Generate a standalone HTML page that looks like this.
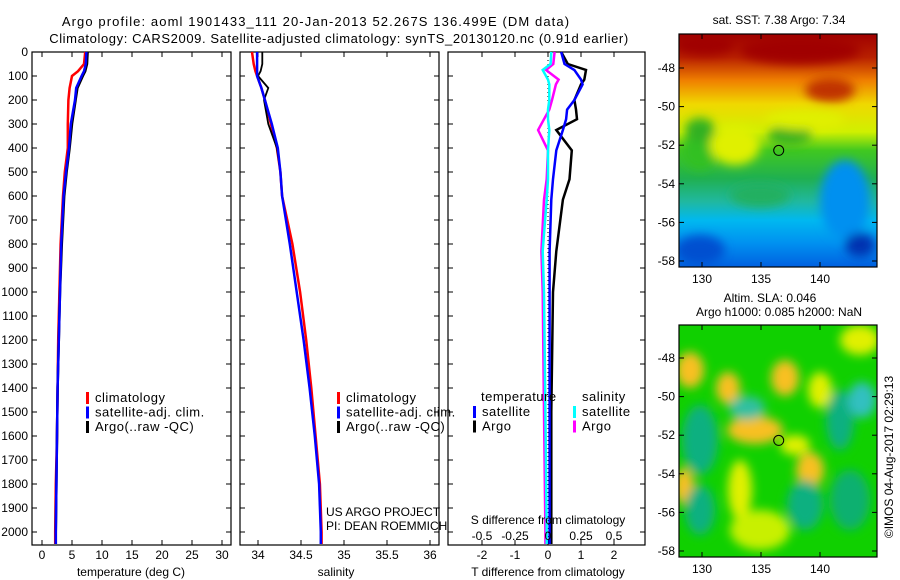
<!DOCTYPE html>
<html><head><meta charset="utf-8"><style>
html,body{margin:0;padding:0;background:#fff;}
svg{display:block;font-family:"Liberation Sans",sans-serif;}
</style></head><body>
<svg id="c" width="900" height="580" xmlns="http://www.w3.org/2000/svg">
<defs>
<linearGradient id="sstg" x1="0" y1="0" x2="0" y2="1">
<stop offset="0" stop-color="#a00000"/><stop offset="0.1" stop-color="#b82000"/><stop offset="0.2" stop-color="#f08000"/><stop offset="0.3" stop-color="#f0d800"/><stop offset="0.42" stop-color="#d0f000"/><stop offset="0.5" stop-color="#40c820"/><stop offset="0.62" stop-color="#20b050"/><stop offset="0.72" stop-color="#20b8a0"/><stop offset="0.8" stop-color="#00b8f0"/><stop offset="0.9" stop-color="#0090f0"/><stop offset="1" stop-color="#0060e0"/>
</linearGradient>
<filter id="blur"><feGaussianBlur stdDeviation="5"/></filter>
<clipPath id="m1"><rect x="679" y="34" width="198" height="233"/></clipPath>
<clipPath id="m2"><rect x="679" y="325" width="198" height="232"/></clipPath>
</defs>
<g id="root"></g>
</svg>
<script>
// ---- data ----
const depths = [0,50,80,100,150,200,300,400,500,600,800,1000,1200,1400,1600,1800,2000,2050];
const tempClim = [7.2,7.0,6.0,5.0,4.6,4.4,4.3,4.3,3.8,3.5,3.1,2.9,2.7,2.6,2.5,2.3,2.2,2.2];
const tempSat  = [7.4,7.3,7.0,6.6,5.7,5.5,4.8,4.5,4.0,3.6,3.2,3.0,2.8,2.6,2.5,2.4,2.3,2.3];
const tempArgo = [7.6,7.5,7.2,6.8,5.9,5.6,5.0,4.6,4.1,3.7,3.3,3.0,2.8,2.6,2.5,2.4,2.3,2.3];
const salClim  = [33.93,33.95,33.97,33.99,34.04,34.08,34.15,34.22,34.26,34.28,34.40,34.49,34.56,34.62,34.67,34.72,34.74,34.74];
const salSat   = [33.99,33.99,33.99,33.99,34.04,34.08,34.16,34.23,34.26,34.28,34.37,34.45,34.53,34.60,34.66,34.71,34.73,34.73];
const salArgo  = [34.05,34.05,34.03,34.00,34.12,34.07,34.12,34.22,34.26,34.28,34.37,34.45,34.53,34.60,34.66,34.71,34.73,34.73];
const dDepths  = [0,50,75,115,135,200,240,280,325,410,530,615,830,1000,1500,2000,2050];
const dTSat    = [0.4,0.5,0.8,1.0,1.05,0.8,0.58,0.55,0.45,0.25,0.15,0.1,0.05,0.05,0.05,0.05,0.05];
const dTArgo   = [0.4,0.6,1.15,1.1,1.0,0.8,0.85,0.88,0.25,0.72,0.65,0.45,0.25,0.15,0.1,0.1,0.1];
const dSSat    = [0.025,0.02,-0.04,0.0,0.01,0.01,0.0,0.0,0.01,0.0,0.0,-0.01,-0.04,-0.03,-0.02,-0.01,-0.01];
const dSArgo   = [0.05,0.04,-0.015,0.08,0.06,0.03,0.01,-0.03,-0.075,0.0,-0.01,-0.03,-0.05,-0.04,-0.03,-0.02,-0.02];
const depthTicks = [0,100,200,300,400,500,600,700,800,900,1000,1100,1200,1300,1400,1500,1600,1700,1800,1900,2000];
const tTicks = [0,5,10,15,20,25,30];
const sTicks = [34,34.5,35,35.5,36];
const dTTicks = [-2,-1,0,1,2];
const dSTicks = ['-0.5','-0.25','0','0.25','0.5'];

const NS='http://www.w3.org/2000/svg';
const rootG=document.getElementById('root');
function el(tag,attrs,parent){const e=document.createElementNS(NS,tag);for(const k in attrs)e.setAttribute(k,attrs[k]);(parent||rootG).appendChild(e);return e;}
function txt(x,y,s,anchor,size,parent,rot){const t=el('text',{x:x,y:y,'font-size':size||12,'text-anchor':anchor||'start',fill:'#000'},parent);if(rot)t.setAttribute('transform',rot);t.textContent=s;return t;}

const yTop=52,yBot=545;
const yD=d=>yTop+d*0.24;
const xT=v=>42+v*6;
const xS=v=>258+(v-34)*86;
const xDT=v=>548+v*33;
const xDS=v=>548+v*132;

let t1=txt(316,26,'Argo profile: aoml 1901433_111 20-Jan-2013 52.267S 136.499E (DM data)','middle',13);
t1.setAttribute('letter-spacing','1.1');


let t2=txt(339,43,'Climatology: CARS2009. Satellite-adjusted climatology: synTS_20130120.nc (0.91d earlier)','middle',13);
t2.setAttribute('letter-spacing','0.6');



function panel(name,x0,x1){
  const g=el('g',{});
  
  
  el('rect',{x:x0,y:yTop,width:x1-x0,height:yBot-yTop,fill:'none',stroke:'#000','stroke-width':1.2},g);
  return g;
}
function line(g,xs,ds,xf,yf,color,w,name){
  const p=el('polyline',{points:xs.map((v,i)=>xf(v).toFixed(1)+','+yf(ds[i]).toFixed(1)).join(' '),fill:'none',stroke:color,'stroke-width':w},g);
  
  
}
function xticks(g,ticks,xf,labels){
  ticks.forEach((v,i)=>{
    const x=xf(v);
    el('line',{x1:x,y1:yTop,x2:x,y2:yTop+5,stroke:'#000'},g);
    el('line',{x1:x,y1:yBot,x2:x,y2:yBot-5,stroke:'#000'},g);
    txt(x,559,labels?labels[i]:String(v),'middle',12,g);
  });
}
const p1=panel('temperature-panel',32,231);
depthTicks.forEach(d=>{const y=yD(d);el('line',{x1:32,y1:y,x2:37,y2:y,stroke:'#000'},p1);el('line',{x1:231,y1:y,x2:226,y2:y,stroke:'#000'},p1);txt(28,y+4,String(d),'end',12,p1);});
xticks(p1,tTicks,xT);
line(p1,tempClim,depths,xT,yD,'#f00',2.5,'temp-climatology-line');
line(p1,tempArgo,depths,xT,yD,'#000',2.5,'temp-argo-line');
line(p1,tempSat,depths,xT,yD,'#00f',2.5,'temp-satellite-line');
let xl1=txt(131,576,'temperature (deg C)','middle',12,p1);
const p2=panel('salinity-panel',240,439);
depthTicks.forEach(d=>{const y=yD(d);el('line',{x1:240,y1:y,x2:245,y2:y,stroke:'#000'},p2);el('line',{x1:439,y1:y,x2:434,y2:y,stroke:'#000'},p2);});
xticks(p2,sTicks,xS);
line(p2,salClim,depths,xS,yD,'#f00',2.5,'sal-climatology-line');
line(p2,salArgo,depths,xS,yD,'#000',1.8,'sal-argo-line');
line(p2,salSat,depths,xS,yD,'#00f',2.5,'sal-satellite-line');
let xl2=txt(336,576,'salinity','middle',12,p2);
txt(326,516,'US ARGO PROJECT','start',12,p2);
txt(326,530,'PI: DEAN ROEMMICH','start',12,p2);
const p3=panel('difference-panel',448,645);
depthTicks.forEach(d=>{const y=yD(d);el('line',{x1:448,y1:y,x2:453,y2:y,stroke:'#000'},p3);el('line',{x1:645,y1:y,x2:640,y2:y,stroke:'#000'},p3);});
xticks(p3,dTTicks,xDT);
el('line',{x1:548,y1:yTop,x2:548,y2:yBot,stroke:'#000','stroke-dasharray':'1,3'},p3);
line(p3,dSArgo,dDepths,xDS,yD,'#f0f',2.5,'sal-diff-argo-line');
line(p3,dSSat,dDepths,xDS,yD,'#0ff',2.5,'sal-diff-satellite-line');
line(p3,dTArgo,dDepths,xDT,yD,'#000',2.5,'temp-diff-argo-line');
line(p3,dTSat,dDepths,xDT,yD,'#00f',2.5,'temp-diff-satellite-line');
dSTicks.forEach(s=>{txt(xDS(parseFloat(s)),540,s,'middle',12,p3);});
txt(548,524,'S difference from climatology','middle',12,p3);
let xl3=txt(548,576,'T difference from climatology','middle',12,p3);

function legend(g,x,y,items,name){
  const lg=el('g',{},g);
  
  
  items.forEach((it,i)=>{const yy=y+i*14.5;el('rect',{x:x,y:yy-9,width:3,height:12,fill:it[1]},lg);const t=txt(x+9,yy+1,it[0],'start',13,lg);t.setAttribute('letter-spacing','0.5');});
}
const L=[['climatology','#f00'],['satellite-adj. clim.','#00f'],['Argo(..raw -QC)','#000']];
legend(p1,86,401,L,'temperature-legend');
legend(p2,337,401,L,'salinity-legend');
let lt1=txt(481,401,'temperature','start',13,p3);lt1.setAttribute('letter-spacing','0.5');
legend(p3,473,415,[['satellite','#00f'],['Argo','#000']],'temp-diff-legend');
let lt2=txt(582,401,'salinity','start',13,p3);lt2.setAttribute('letter-spacing','0.5');
legend(p3,573,415,[['satellite','#0ff'],['Argo','#f0f']],'sal-diff-legend');

const lonTicks=[130,135,140];
const latTicks=[-48,-50,-52,-54,-56,-58];
const xLon=v=>702+(v-130)*11.8;
function map(name,y0,h,latY0,clip,fillFn){
  const g=el('g',{});
  
  
  const inner=el('g',{'clip-path':'url(#'+clip+')'},g);
  fillFn(inner);
  el('rect',{x:679,y:y0,width:198,height:h,fill:'none',stroke:'#000','stroke-width':1.2},g);
  const yLat=v=>latY0+(-48-v)*19.3;
  latTicks.forEach(v=>{const y=yLat(v);el('line',{x1:679,y1:y,x2:684,y2:y,stroke:'#000'},g);el('line',{x1:877,y1:y,x2:872,y2:y,stroke:'#000'},g);txt(675,y+4,String(v),'end',12,g);});
  lonTicks.forEach(v=>{const x=xLon(v);el('line',{x1:x,y1:y0,x2:x,y2:y0+5,stroke:'#000'},g);el('line',{x1:x,y1:y0+h,x2:x,y2:y0+h-5,stroke:'#000'},g);txt(x,y0+h+16,String(v),'middle',12,g);});
  const c=el('circle',{cx:xLon(136.5),cy:yLat(-52.27),r:5,fill:'none',stroke:'#000','stroke-width':1},g);
  
  
  return g;
}
map('sst-map',34,233,68,'m1',g=>{
  el('rect',{x:679,y:34,width:198,height:233,fill:'url(#sstg)'},g);
  const bl=el('g',{filter:'url(#blur)'},g);
  [[700,150,18,20,'#30c020'],[735,145,25,20,'#e0f000'],[700,130,15,12,'#30b020'],[790,135,22,10,'#30b020'],[805,120,40,10,'#e0f000'],[830,90,25,12,'#c03000'],[800,50,60,14,'#a00000'],[705,45,30,10,'#a00000'],[845,200,25,40,'#0090f0'],[700,250,25,15,'#0050d0'],[860,245,15,12,'#0030b0'],[760,195,30,12,'#20b060']].forEach(e=>el('ellipse',{cx:e[0],cy:e[1],rx:e[2],ry:e[3],fill:e[4]},bl));
});
map('sla-map',325,232,358,'m2',g=>{
  el('rect',{x:679,y:325,width:198,height:232,fill:'#10d000'},g);
  const bl=el('g',{filter:'url(#blur)'},g);
  [[690,370,14,18,'#f8c020'],[728,388,12,16,'#f8c020'],[785,378,14,18,'#f8c020'],[820,390,12,18,'#e0f000'],[755,430,28,14,'#f8c020'],[700,440,18,35,'#10b080'],[747,408,18,12,'#30c0a0'],[840,420,14,30,'#10b080'],[862,400,14,18,'#30c0c0'],[810,470,14,18,'#f8c020'],[795,445,15,10,'#e0f000'],[684,486,10,18,'#f8c020'],[700,510,15,25,'#10b080'],[740,490,12,30,'#e0f000'],[760,530,30,20,'#c8f000'],[805,505,18,25,'#10b080'],[850,500,20,30,'#10b070'],[860,340,20,15,'#e0f000']].forEach(e=>el('ellipse',{cx:e[0],cy:e[1],rx:e[2],ry:e[3],fill:e[4]},bl));
});
txt(779,24,'sat. SST: 7.38 Argo: 7.34','middle',12);
txt(770,302,'Altim. SLA: 0.046','middle',12);
txt(779,316,'Argo h1000: 0.085 h2000: NaN','middle',12);
txt(0,0,'©IMOS 04-Aug-2017 02:29:13','middle',12,rootG,'translate(893,457) rotate(-90)');
</script>
</body></html>
